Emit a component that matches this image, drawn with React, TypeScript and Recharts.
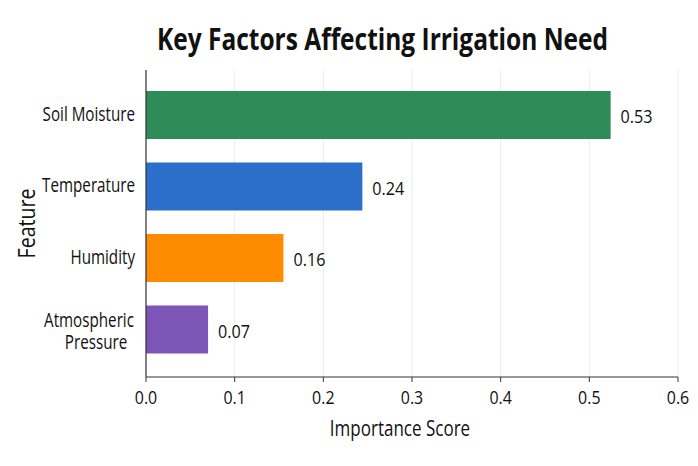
import React from 'react';
import { BarChart, Bar, XAxis, YAxis, CartesianGrid, Cell, LabelList, Label } from 'recharts';

const features = ['Soil Moisture', 'Temperature', 'Humidity', 'Atmospheric Pressure'];
const importance = [0.524, 0.244, 0.155, 0.07];
const valueLabels = ['0.53', '0.24', '0.16', '0.07'];
const barColors = ['#2f8b57', '#2b6fcb', '#ff8c00', '#7c55b6'];
const xTicks = [0, 0.1, 0.2, 0.3, 0.4, 0.5, 0.6];
const titleText = 'Key Factors Affecting Irrigation Need';
const xLabelText = 'Importance Score';
const yLabelText = 'Feature';

const data = features.map((f, i) => ({ feature: f, value: importance[i], label: valueLabels[i] }));

const FONT = "'Open Sans', 'Noto Sans', sans-serif";
const INK = '#111';

function SText(props: any) {
  const { x, y, anchor = 'start', size = 19, weight = 400, rotate, sx = 0.8, children } = props;
  return (
    <text
      transform={`translate(${x},${y})${rotate ? ` rotate(${rotate})` : ''} scale(${sx},1)`}
      textAnchor={anchor}
      fontSize={size}
      fontWeight={weight}
      fontFamily={FONT}
      fill={INK}
    >
      {children}
    </text>
  );
}

const YTick = (props: any) => {
  const { x, y, payload } = props;
  const v: string = payload.value;
  const lines = v.length > 14 ? v.split(' ') : [v];
  if (lines.length === 1) {
    return <SText x={x} y={y + 6} anchor="end" size={20} sx={0.76}>{v}</SText>;
  }
  return (
    <g>
      <SText x={x - 46} y={y - 2} anchor="middle" size={19.5} sx={0.78}>{lines[0]}</SText>
      <SText x={x - 39} y={y + 20} anchor="middle" size={19.5} sx={0.78}>{lines[1]}</SText>
    </g>
  );
};

const XTick = (props: any) => {
  const { x, y, payload } = props;
  return <SText x={x} y={y + 20} anchor="middle" size={19} sx={0.84}>{payload.value.toFixed(1)}</SText>;
};

const ValueLabel = (props: any) => {
  const { x, y, width, height, value } = props;
  return <SText x={x + width + 10} y={y + height / 2 + 8} anchor="start" size={19} sx={0.85}>{value}</SText>;
};

const YAxisLabel = (props: any) => {
  const { viewBox } = props;
  const cy = viewBox.y + viewBox.height / 2;
  return <SText x={35} y={cy} anchor="middle" size={23} sx={0.85} rotate={-90}>{yLabelText}</SText>;
};

const XAxisLabel = (props: any) => {
  const { viewBox } = props;
  const cx = viewBox.x + viewBox.width / 2 - 12;
  return <SText x={cx} y={436} anchor="middle" size={21} sx={0.81}>{xLabelText}</SText>;
};

export default function App() {
  return (
    <div style={{ position: 'relative', width: 698, height: 466, background: '#fff' }}>
      <style>{`body{margin:0;background:#fff}`}</style>
      <BarChart
        width={698}
        height={466}
        data={data}
        layout="vertical"
        margin={{ top: 70, right: 20, bottom: 29, left: 0 }}
        barCategoryGap={23}
      >
        <CartesianGrid horizontal={false} stroke="#ececec" strokeWidth={1} />
        <XAxis
          type="number"
          dataKey="value"
          domain={[0, 0.6]}
          ticks={xTicks}
          height={60}
          tickSize={5}
          tickMargin={2}
          axisLine={{ stroke: '#333', strokeWidth: 1.2 }}
          tickLine={{ stroke: '#333', strokeWidth: 1 }}
          tick={<XTick />}
        >
          <Label content={<XAxisLabel />} />
        </XAxis>
        <YAxis
          type="category"
          dataKey="feature"
          width={146}
          tickSize={0}
          tickMargin={11}
          padding={{ top: 9, bottom: 12 }}
          axisLine={{ stroke: '#333', strokeWidth: 1.2 }}
          tickLine={false}
          tick={<YTick />}
          interval={0}
        >
          <Label content={<YAxisLabel />} />
        </YAxis>
        <Bar dataKey="value" isAnimationActive={false} barSize={48}>
          {data.map((d, i) => (
            <Cell key={d.feature} fill={barColors[i]} />
          ))}
          <LabelList dataKey="label" content={<ValueLabel />} />
        </Bar>
      </BarChart>
      <svg
        width={698}
        height={80}
        style={{ position: 'absolute', left: 0, top: 0, pointerEvents: 'none' }}
      >
        <text
          x={382.5}
          y={50}
          textAnchor="middle"
          fontSize={30}
          fontWeight={700}
          fontFamily={FONT}
          fill={INK}
          textLength={451}
          lengthAdjust="spacingAndGlyphs"
        >
          {titleText}
        </text>
      </svg>
    </div>
  );
}
